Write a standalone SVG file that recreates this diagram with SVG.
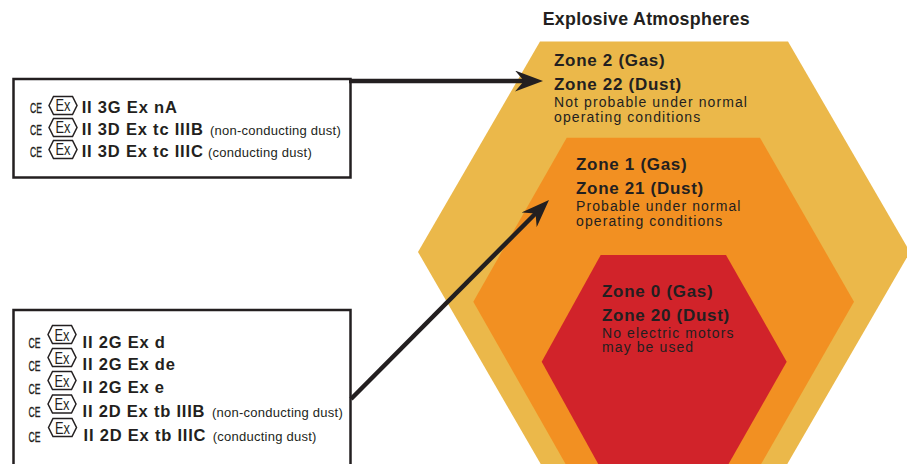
<svg xmlns="http://www.w3.org/2000/svg" xmlns:xlink="http://www.w3.org/1999/xlink" width="907" height="464" viewBox="0 0 907 464">
<style>
.box{fill:#fff;stroke:#231F20;stroke-width:2.5}
.exh{fill:none;stroke:#231F20;stroke-width:1.5;stroke-linejoin:miter}
.ce{font-family:'Liberation Sans',Arial,sans-serif;font-size:15.5px;fill:#231F20;stroke:#231F20;stroke-width:0.35}
.ex{font-family:'Liberation Sans',Arial,sans-serif;font-size:17px;fill:#231F20}
.b{font-family:'Liberation Sans',Arial,sans-serif;font-weight:bold;font-size:16.5px;letter-spacing:0.8px;fill:#231F20}
.s{font-family:'Liberation Sans',Arial,sans-serif;font-weight:normal;font-size:13px;letter-spacing:0.25px;fill:#231F20}
.title{font-family:'Liberation Sans',Arial,sans-serif;font-weight:bold;font-size:17.8px;letter-spacing:0.3px;fill:#231F20}
.zt{font-family:'Liberation Sans',Arial,sans-serif;font-weight:bold;font-size:17px;letter-spacing:0.7px;fill:#231F20}
.zd{font-family:'Liberation Sans',Arial,sans-serif;font-size:14px;letter-spacing:1.1px;fill:#231F20}
.conn{stroke:#231F20;stroke-width:4.5;fill:none;marker-end:url(#ah)}
</style>
<defs>
<polygon id="exhex" class="exh" points="0,9 4.5,0 23.5,0 28,9 23.5,18 4.5,18"/>
<marker id="ah" markerUnits="userSpaceOnUse" viewBox="0 0 28 21" markerWidth="28" markerHeight="21" refX="11" refY="10.5" orient="auto">
<path d="M0,0 L28,10.5 L0,21 L9,10.5 Z" fill="#231F20"/>
</marker>
</defs>

<g id="zones">
<polygon id="zone-outer" fill="#EBB84A" points="540,41.5 788,41.5 910,252 787,464.5 541,464.5 418,252"/>
<polygon id="zone-middle" fill="#F29022" points="566.7,137.7 760,137.7 854,301.7 760,466 566.7,466 473.3,301.7"/>
<polygon id="zone-inner" fill="#D1232A" points="600.7,255 726,255 786.7,361.7 726,468.5 600.7,468.5 541.7,361.7"/>
</g>

<g id="title">
<text class="title" x="542.7" y="25">Explosive Atmospheres</text>
</g>

<g id="zone2">
<text class="zt" x="554" y="66">Zone 2 (Gas)</text>
<text class="zt" x="554" y="90">Zone 22 (Dust)</text>
<text class="zd" x="554" y="106.5">Not probable under normal</text>
<text class="zd" x="554" y="122">operating conditions</text>
</g>

<g id="zone1">
<text class="zt" x="576" y="170">Zone 1 (Gas)</text>
<text class="zt" x="576" y="194">Zone 21 (Dust)</text>
<text class="zd" x="576" y="210.5">Probable under normal</text>
<text class="zd" x="576" y="226">operating conditions</text>
</g>

<g id="zone0">
<text class="zt" x="602" y="297">Zone 0 (Gas)</text>
<text class="zt" x="602" y="321">Zone 20 (Dust)</text>
<text class="zd" x="602" y="337.5">No electric motors</text>
<text class="zd" x="602" y="352">may be used</text>
</g>

<g id="box-cat3">
<rect class="box" x="13.5" y="79" width="337" height="98.5"/>
<text class="ce" x="30" y="112.5" textLength="12" lengthAdjust="spacingAndGlyphs">CE</text>
<use xlink:href="#exhex" href="#exhex" x="49" y="96.5"/>
<text class="ex" x="55.5" y="111" textLength="15" lengthAdjust="spacingAndGlyphs">Ex</text>
<text class="b" x="81.7" y="112.5">II 3G Ex nA</text>

<text class="ce" x="30" y="134.5" textLength="12" lengthAdjust="spacingAndGlyphs">CE</text>
<use xlink:href="#exhex" href="#exhex" x="49" y="118.5"/>
<text class="ex" x="55.5" y="133" textLength="15" lengthAdjust="spacingAndGlyphs">Ex</text>
<text class="b" x="81.7" y="134.5">II 3D Ex tc IIIB <tspan class="s" x="210">(non-conducting dust)</tspan></text>

<text class="ce" x="30" y="156.5" textLength="12" lengthAdjust="spacingAndGlyphs">CE</text>
<use xlink:href="#exhex" href="#exhex" x="49" y="140.5"/>
<text class="ex" x="55.5" y="155" textLength="15" lengthAdjust="spacingAndGlyphs">Ex</text>
<text class="b" x="81.7" y="156.5">II 3D Ex tc IIIC <tspan class="s" x="208">(conducting dust)</tspan></text>
</g>

<g id="box-cat2">
<rect class="box" x="13.5" y="310" width="337" height="170"/>
<text class="ce" x="28.5" y="347.5" textLength="12" lengthAdjust="spacingAndGlyphs">CE</text>
<use xlink:href="#exhex" href="#exhex" x="48" y="325.5"/>
<text class="ex" x="54.5" y="340.5" textLength="15" lengthAdjust="spacingAndGlyphs">Ex</text>
<text class="b" x="82.5" y="347.5">II 2G Ex d</text>

<text class="ce" x="28.5" y="370.5" textLength="12" lengthAdjust="spacingAndGlyphs">CE</text>
<use xlink:href="#exhex" href="#exhex" x="48" y="348.5"/>
<text class="ex" x="54.5" y="363.5" textLength="15" lengthAdjust="spacingAndGlyphs">Ex</text>
<text class="b" x="82.5" y="370">II 2G Ex de</text>

<text class="ce" x="28.5" y="393.5" textLength="12" lengthAdjust="spacingAndGlyphs">CE</text>
<use xlink:href="#exhex" href="#exhex" x="48" y="371.5"/>
<text class="ex" x="54.5" y="386.5" textLength="15" lengthAdjust="spacingAndGlyphs">Ex</text>
<text class="b" x="82.5" y="393">II 2G Ex e</text>

<text class="ce" x="28.5" y="417" textLength="12" lengthAdjust="spacingAndGlyphs">CE</text>
<use xlink:href="#exhex" href="#exhex" x="48" y="395"/>
<text class="ex" x="54.5" y="410" textLength="15" lengthAdjust="spacingAndGlyphs">Ex</text>
<text class="b" x="82.5" y="416.5">II 2D Ex tb IIIB <tspan class="s" x="212">(non-conducting dust)</tspan></text>

<text class="ce" x="28.5" y="442" textLength="12" lengthAdjust="spacingAndGlyphs">CE</text>
<use xlink:href="#exhex" href="#exhex" x="48.5" y="418.5"/>
<text class="ex" x="55" y="433.5" textLength="15" lengthAdjust="spacingAndGlyphs">Ex</text>
<text class="b" x="83.5" y="440.5">II 2D Ex tb IIIC <tspan class="s" x="212.7">(conducting dust)</tspan></text>
</g>

<g id="connectors">
<line class="conn" x1="349" y1="81" x2="526" y2="81"/>
<line class="conn" x1="351" y1="399" x2="537" y2="212"/>
</g>
</svg>
